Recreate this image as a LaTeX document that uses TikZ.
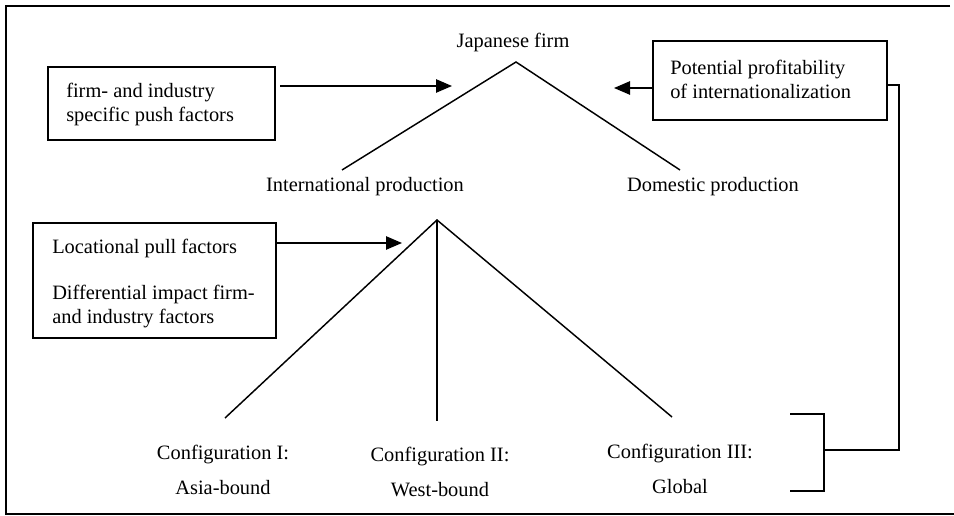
\documentclass[tikz,border=0pt]{standalone}
\usepackage{fontspec}
\setmainfont{Liberation Serif}
\usetikzlibrary{arrows.meta}
\begin{document}
\begin{tikzpicture}[x=0.75pt,y=-0.75pt,
  lbl/.style={font=\fontsize{15.3}{18}\selectfont, inner sep=0pt},
  ln/.style={line width=1.1pt},
  arr/.style={line width=1.1pt, -{Triangle[length=12pt,width=10pt]}}]
\useasboundingbox (0,0) rectangle (954,516);
\fill[white] (0,0) rectangle (954,516);
% frame
\draw[line width=1.4pt] (950,6) -- (6,6) -- (6,514) -- (954,514);

% boxes
\draw[line width=1.1pt] (48,67) rectangle (275,140);
\node[lbl, anchor=west, align=left] (push) at (66,104) {firm- and industry\\specific push factors};
\coordinate (pushR) at (280,86);

\draw[line width=1.1pt] (653,41) rectangle (887,120);
\node[lbl, anchor=west, align=left] (pot) at (670,79) {Potential profitability\\of internationalization};
\coordinate (potL) at (653,88);
\coordinate (potR) at (887,85);

\draw[line width=1.1pt] (33,223) rectangle (276,338);
\node[lbl, anchor=west] (loc) at (52,248) {Locational pull factors};
\node[lbl, anchor=west, align=left] (diff) at (52,307) {Differential impact firm-\\and industry factors};
\coordinate (locR) at (277,243);

% labels
\node[lbl] (jf) at (513,42) {Japanese firm};
\node[lbl] (ip) at (365,187) {International production};
\node[lbl] (dp) at (713,187) {Domestic production};
\node[lbl, align=center] (c1) at (223,470) {Configuration I:\\[8pt]Asia-bound};
\node[lbl, align=center] (c2) at (440,472) {Configuration II:\\[8pt]West-bound};
\node[lbl, align=center] (c3) at (680,469) {Configuration III:\\[8pt]Global};

% tree
\coordinate (a1) at (516,62);
\coordinate (ipT) at (342,170);
\coordinate (dpT) at (680,170);
\draw[ln] (ipT) -- (a1) -- (dpT);
\coordinate (a2) at (437,220);
\coordinate (c1T) at (225,418);
\coordinate (c2T) at (437,421);
\coordinate (c3T) at (672,417);
\draw[ln] (c1T) -- (a2) -- (c3T);
\draw[ln] (a2) -- (c2T);

% arrows
\coordinate (t1) at (452,86);
\coordinate (t2) at (402,243);
\coordinate (t3) at (614,88);
\draw[arr] (pushR) -- (t1);
\draw[arr] (locR) -- (t2);
\draw[arr] (potL) -- (t3);

% feedback bracket
\coordinate (b1) at (899,85);
\coordinate (b2) at (899,450);
\coordinate (b3) at (824,450);
\draw[ln] (potR) -- (b1) -- (b2) -- (b3);
\draw[ln] (790,414) -- (824,414) -- (824,491) -- (790,491);
\end{tikzpicture}
\end{document}
